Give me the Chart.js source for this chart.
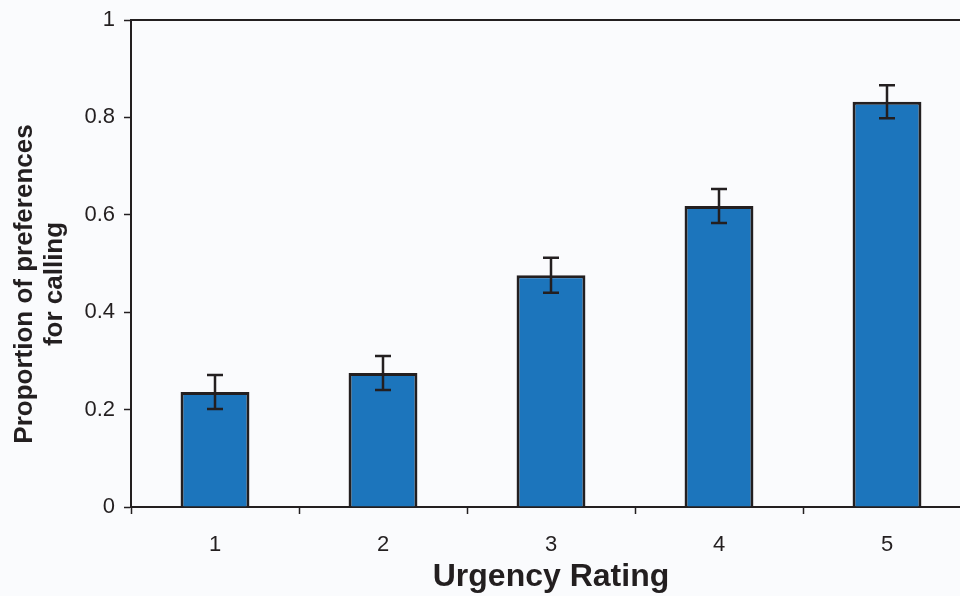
<!DOCTYPE html>
<html>
<head>
<meta charset="utf-8">
<script src="https://cdn.jsdelivr.net/npm/chart.js@4/dist/chart.umd.min.js"></script>
<style>
  html, body { margin: 0; padding: 0; overflow: hidden; background: #fafbfd; }
  canvas { display: block; }
</style>
</head>
<body>
<canvas id="urgencyChart" width="972" height="596"></canvas>
<script>
// data
const ratings = ["1", "2", "3", "4", "5"]
const proportions = [0.236, 0.275, 0.476, 0.618, 0.832]
const stdErrors = [0.035, 0.035, 0.036, 0.035, 0.034]
const yTicks = [0, 0.2, 0.4, 0.6, 0.8, 1]
const yTitleLines = ["Proportion of preferences", "for calling"]
const xTitle = "Urgency Rating"

const ink = "#231f20"
const fontFamily = "'Liberation Sans', Arial, sans-serif"

// error bars + frame top line + y title
const extras = {
  id: "extras",
  afterDatasetsDraw(chart) {
    const { ctx, chartArea } = chart
    const y = chart.scales.y
    const meta = chart.getDatasetMeta(0)
    ctx.save()
    ctx.strokeStyle = ink
    ctx.lineWidth = 2.5
    meta.data.forEach((bar, i) => {
      const top = y.getPixelForValue(proportions[i] + stdErrors[i])
      const bot = y.getPixelForValue(proportions[i] - stdErrors[i])
      ctx.beginPath()
      ctx.moveTo(bar.x, top); ctx.lineTo(bar.x, bot)
      ctx.moveTo(bar.x - 8, top); ctx.lineTo(bar.x + 8, top)
      ctx.moveTo(bar.x - 8, bot); ctx.lineTo(bar.x + 8, bot)
      ctx.stroke()
    })
    // top frame line
    ctx.lineWidth = 2
    ctx.beginPath()
    ctx.moveTo(chartArea.left - 1, chartArea.top)
    ctx.lineTo(chartArea.right, chartArea.top)
    ctx.stroke()
    ctx.restore()
  },
  afterDraw(chart) {
    const { ctx } = chart
    ctx.save()
    ctx.fillStyle = ink
    ctx.font = "bold 26px " + fontFamily
    ctx.textAlign = "center"
    ctx.textBaseline = "alphabetic"
    ctx.translate(0, 284)
    ctx.rotate(-Math.PI / 2)
    ctx.fillText(yTitleLines[0], 0, 32)
    ctx.fillText(yTitleLines[1], 0, 62)
    ctx.restore()
  }
}

new Chart(document.getElementById("urgencyChart"), {
  type: "bar",
  data: {
    labels: ratings,
    datasets: [{
      data: proportions,
      backgroundColor: "#1c75bc",
      borderColor: ink,
      borderWidth: 3,
      barPercentage: 0.41,
      categoryPercentage: 1
    }]
  },
  options: {
    responsive: false,
    animation: false,
    layout: { padding: { top: 20, right: 1, left: 0, bottom: 0 } },
    plugins: { legend: { display: false }, tooltip: { enabled: false } },
    scales: {
      x: {
        z: 1,
        grid: { offset: true, drawOnChartArea: false, tickLength: 7, tickColor: ink, tickWidth: 1.5 },
        border: { display: true, color: ink, width: 2 },
        ticks: { color: ink, font: { family: fontFamily, size: 22 }, padding: 18 },
        title: {
          display: true, text: xTitle, color: ink,
          font: { family: fontFamily, size: 32, weight: "bold" },
          padding: { top: 0, bottom: 0 }
        },
        afterFit(scale) { scale.height = 89 }
      },
      y: {
        z: 1,
        min: 0,
        max: 1,
        afterBuildTicks(scale) { scale.ticks = yTicks.map(v => ({ value: v })) },
        grid: { drawOnChartArea: false, tickLength: 7, tickColor: ink, tickWidth: 1.5 },
        border: { display: true, color: ink, width: 2 },
        ticks: {
          color: ink, font: { family: fontFamily, size: 22 }, padding: 9,
          callback: v => (v === 0 || v === 1) ? String(v) : v.toFixed(1)
        },
        afterFit(scale) {
          scale.width = 131
          scale.paddingTop = 0
          scale.paddingBottom = 0
        }
      }
    }
  },
  plugins: [extras]
})
</script>
</body>
</html>
